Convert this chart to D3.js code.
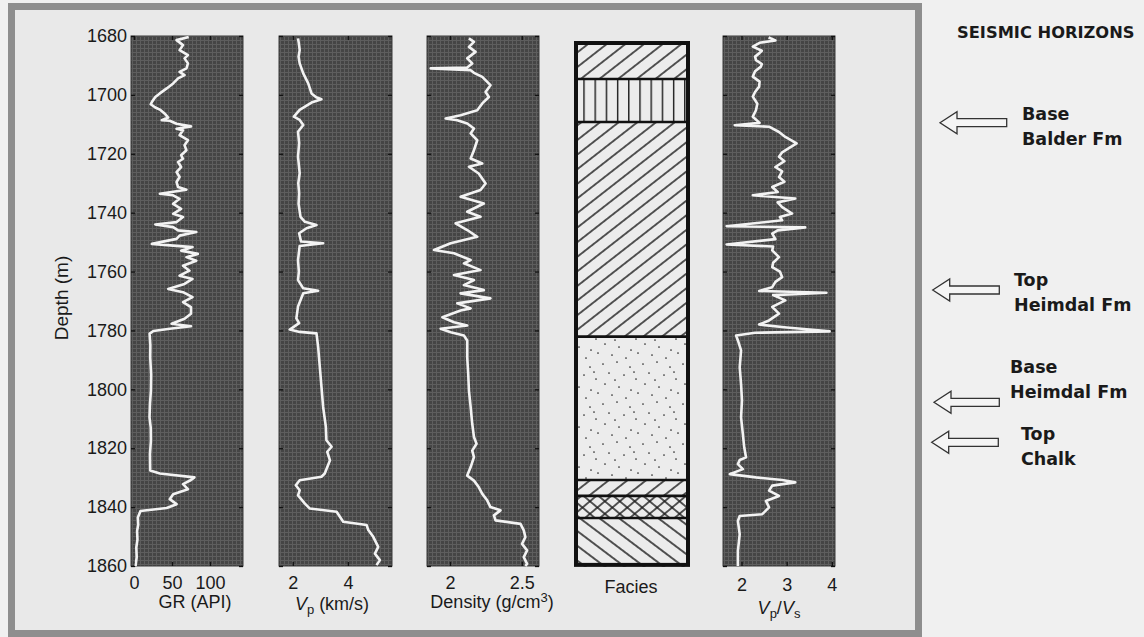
<!DOCTYPE html>
<html><head><meta charset="utf-8">
<script src="https://cdn.jsdelivr.net/npm/d3@7"></script>
<style>
html,body{margin:0;padding:0;background:#f0f0f0;}
svg{display:block;}
</style></head><body>
<svg id="chart" width="1144" height="637"></svg>
<script>
// ---------------- DATA ----------------
const depthTicks = [1680,1700,1720,1740,1760,1780,1800,1820,1840,1860];
const grTicks = [0,50,100];
const vpTicks = [2,4];
const rhoTicks = [2,2.5];
const vpvsTicks = [2,3,4];

// [depth (m), GR (API)]
const grLog = [[1680.3,72],[1681.4,56],[1683.1,64.5],[1684.8,60],[1686.5,71],[1687.6,66.5],[1689.3,71],[1691,69],[1692.2,60],[1693.3,66.5],[1694.4,58],[1696.1,51.5],[1697.8,43],[1699.5,34],[1700.7,28],[1702.4,23.5],[1703.2,22],[1704.3,28],[1705,34],[1706.4,40.5],[1707.7,45],[1708.6,36.5],[1708.8,47],[1709.8,56],[1710.7,75],[1711.5,56],[1712,64.5],[1713.7,60],[1715.4,71],[1717.1,66.5],[1718.8,69],[1720.5,62],[1721.7,64.5],[1722.8,58],[1724.5,62],[1726.2,56],[1727.9,60],[1729.6,56],[1731.3,58],[1732.2,69],[1733.6,34],[1734.1,51.5],[1735.3,60],[1737,51.5],[1738.7,62],[1740.4,51.5],[1741.5,64.5],[1743.2,56],[1744,28],[1744.9,51.5],[1746,58],[1746.6,82],[1747.8,60],[1748.9,56],[1750.6,23.5],[1751.2,51.5],[1751.7,77],[1752.9,62],[1754,84],[1755.1,69],[1756.3,82],[1758,64.5],[1759.7,73],[1761.4,60],[1762.5,77],[1764.2,66.5],[1765.9,45],[1767,64.5],[1768.7,77],[1770.4,64.5],[1772.1,75],[1774.3,75],[1776,66.5],[1777.7,49.5],[1778.6,75],[1779.4,47],[1780.2,25.5],[1781.1,20.5],[1785,21.5],[1789.1,21.3],[1795,22.5],[1800.4,22.2],[1805,21],[1809.5,20.4],[1813,22],[1817.4,22.2],[1822,21],[1827.6,21.3],[1828.6,34],[1829.9,79.5],[1830.8,75],[1832.2,64.5],[1833.9,71],[1835.6,51.5],[1837.3,47],[1839,56],[1840.3,43],[1841.3,8.5],[1843.5,5],[1846,5.5],[1848.1,4],[1851,4.5],[1853.7,3],[1857,3.5],[1860,2]];

// [depth (m), Vp (km/s)]
const vpLog = [[1680.8,2.19],[1682.5,2.22],[1684.8,2.25],[1687,2.21],[1689.3,2.25],[1692.7,2.38],[1696.1,2.56],[1699.5,2.68],[1700.8,2.85],[1701.5,3.04],[1702.6,2.68],[1705.1,2.25],[1707.4,2.04],[1708.5,2.25],[1710.2,2.38],[1712.5,2.19],[1716.4,2.23],[1721,2.19],[1726.6,2.25],[1730,2.2],[1733.4,2.23],[1737,2.21],[1741.4,2.28],[1743.1,2.44],[1744.2,2.86],[1745.3,2.5],[1747,2.23],[1749.8,2.3],[1750.4,3.1],[1751.3,2.25],[1756.1,2.19],[1760,2.22],[1762.9,2.19],[1765.7,2.38],[1766.5,2.92],[1767.4,2.38],[1771.9,2.19],[1775.9,2.13],[1777.5,2.23],[1779.7,1.89],[1780.5,2.25],[1781,2.86],[1785.6,2.92],[1792.3,2.98],[1799.1,3.04],[1805.9,3.1],[1812.7,3.2],[1817.3,3.22],[1819.5,3.41],[1821.2,3.25],[1824.1,3.35],[1828.6,3.16],[1829.7,3.04],[1830.9,2.25],[1832.6,2.11],[1834.3,2.25],[1836,2.19],[1838.8,2.44],[1840.5,2.62],[1841.6,3.59],[1845,3.83],[1846.1,4.68],[1847.8,4.74],[1850.1,4.92],[1853.5,5.1],[1855.8,4.98],[1858,5.16],[1859.7,5.04]];

// [depth (m), density (g/cm3)]
const rhoLog = [[1680.8,2.132],[1682,2.167],[1683.7,2.132],[1685.4,2.178],[1687.6,2.12],[1689.3,2.155],[1690.7,2.12],[1691,1.866],[1691.6,2.144],[1692.5,2.167],[1693.9,2.225],[1696.7,2.282],[1699,2.248],[1700.7,2.271],[1702.9,2.225],[1705.2,2.19],[1706.9,2.074],[1708,1.97],[1708.6,2.051],[1709.7,2.12],[1711.4,2.167],[1713.1,2.144],[1715.4,2.19],[1718.8,2.167],[1721.6,2.144],[1723.3,2.225],[1724.4,2.132],[1726.7,2.2],[1730.1,2.248],[1732.3,2.213],[1734.6,2.074],[1736.9,2.236],[1739.7,2.12],[1741.4,2.213],[1743.6,2.039],[1745.9,2.12],[1748.2,2.19],[1750.4,2.005],[1752.7,1.889],[1753.8,2.028],[1756.1,2.144],[1757.2,2.097],[1759.5,2.213],[1761.2,2.028],[1762.9,2.167],[1764.6,2.097],[1766.3,2.236],[1767.4,2.074],[1769.1,2.282],[1770.8,2.051],[1772.5,2.144],[1773.2,2.074],[1775.5,1.947],[1777.2,2.028],[1778.3,2.12],[1779.4,1.935],[1780.6,2.005],[1781.7,2.097],[1783.4,2.12],[1789.1,2.12],[1794.7,2.127],[1800.4,2.132],[1806,2.144],[1811.7,2.155],[1816.2,2.167],[1818.5,2.185],[1820.8,2.155],[1823,2.167],[1826.4,2.144],[1829.3,2.12],[1831,2.167],[1833.2,2.2],[1835.5,2.225],[1837.7,2.259],[1840,2.282],[1841.1,2.352],[1842.8,2.306],[1844.5,2.317],[1845.7,2.491],[1847.9,2.514],[1850.2,2.525],[1852.5,2.502],[1854.7,2.537],[1857,2.514],[1859.3,2.537],[1860,2.525]];

// [depth (m), Vp/Vs]
const vpvsLog = [[1680.5,2.6],[1681.5,2.75],[1682.3,2.4],[1683.6,2.25],[1685,2.45],[1685.9,2.39],[1687,2.3],[1688.2,2.32],[1689.5,2.45],[1690.4,2.43],[1692,2.3],[1693.8,2.25],[1695.5,2.4],[1697.2,2.39],[1699,2.3],[1700.6,2.25],[1703,2.35],[1705.2,2.32],[1707.4,2.25],[1709.5,2.4],[1710.3,1.85],[1710.8,2.61],[1712.6,2.83],[1714.3,2.97],[1716.5,3.22],[1718.2,3.04],[1719.5,2.9],[1721,2.83],[1722.5,2.95],[1724.5,2.75],[1726,2.9],[1727.9,2.83],[1729.5,2.95],[1731.3,2.68],[1733,2.8],[1734.1,2.25],[1735.2,3.19],[1736.5,2.8],[1738.1,2.9],[1740.3,3.12],[1741.5,2.85],[1742.6,2.9],[1744.6,1.67],[1745,3.41],[1746,2.8],[1747.1,2.68],[1749,2.75],[1750.8,1.67],[1751.5,2.7],[1752.8,2.68],[1755.1,2.83],[1757,2.7],[1758.5,2.68],[1760,2.85],[1761.9,2.9],[1763.5,2.75],[1765.3,2.68],[1766.6,2.39],[1767.2,3.88],[1768,2.7],[1769.8,2.97],[1772,2.68],[1774.3,2.83],[1776.6,2.61],[1778,2.39],[1779,3.0],[1780.3,3.95],[1780.8,2.3],[1781.7,1.88],[1783.4,1.92],[1786.8,1.99],[1792.5,1.96],[1798.2,1.99],[1803.8,2.01],[1809.5,1.99],[1815.2,2.03],[1819.7,2.06],[1823.1,2.1],[1824,1.96],[1825.4,1.92],[1827.1,2.03],[1828.8,1.74],[1829.9,2.32],[1830.8,2.9],[1831.6,3.19],[1832.7,2.68],[1834.4,2.61],[1836.2,2.83],[1837.9,2.54],[1840.1,2.61],[1842.4,2.46],[1843,1.96],[1844.7,1.92],[1849.2,1.96],[1854.9,1.92],[1860,1.92]];

// facies intervals
const faciesTops  = [1681.7, 1694.6, 1709.2, 1782.1, 1830.8, 1836.2, 1843.7];
const faciesBases = [1694.6, 1709.2, 1782.1, 1830.8, 1836.2, 1843.7, 1860.3];
const faciesKinds = ["fwd", "vert", "fwd", "dots", "fwd", "cross", "back"];

const horizonLabels = [["Base","Balder Fm"],["Top","Heimdal Fm"],["Base","Heimdal Fm"],["Top","Chalk"]];
const headerText = "SEISMIC HORIZONS";

// ---------------- LAYOUT ----------------
const FONT = "'Liberation Sans', Arial, sans-serif";
const BOLD = "'DejaVu Sans', sans-serif";
const TXT = "#1a1a1a";
const svg = d3.select("#chart");
const y = d3.scaleLinear().domain([1680,1860]).range([36,566]);

svg.append("rect").attr("width",1144).attr("height",637).attr("fill","#f0f0f0");
svg.append("rect").attr("x",11.5).attr("y",6.5).attr("width",907).attr("height",627)
  .attr("fill","#e9e9e9").attr("stroke","#8e8e8e").attr("stroke-width",7);

const defs = svg.append("defs");
const grid = defs.append("pattern").attr("id","grid").attr("width",4).attr("height",4).attr("patternUnits","userSpaceOnUse");
grid.append("rect").attr("width",4).attr("height",4).attr("fill","#454545");
grid.append("path").attr("d","M0 0.5H4M0.5 0V4").attr("stroke","#5e5e5e").attr("stroke-width",1);

function linePattern(id, spacing, angle){
  const p = defs.append("pattern").attr("id",id).attr("width",40).attr("height",spacing)
    .attr("patternUnits","userSpaceOnUse").attr("patternTransform",`rotate(${angle})`);
  p.append("line").attr("x1",0).attr("x2",40).attr("y1",spacing/2).attr("y2",spacing/2)
    .attr("stroke","#1a1a1a").attr("stroke-width",1.4);
}
linePattern("fwd", 11.5, -38);
linePattern("back", 11.8, 37);
linePattern("crossA", 9.6, -40);
linePattern("crossB", 9.6, 40);
const vp = defs.append("pattern").attr("id","vert").attr("x",583.3).attr("width",11.2).attr("height",20).attr("patternUnits","userSpaceOnUse");
vp.append("line").attr("x1",0.7).attr("x2",0.7).attr("y1",0).attr("y2",20).attr("stroke","#1a1a1a").attr("stroke-width",1.4);
const dp = defs.append("pattern").attr("id","dots").attr("width",40).attr("height",40).attr("patternUnits","userSpaceOnUse");
[[3,4],[17,2],[30,7],[9,13],[24,15],[36,19],[5,24],[19,27],[31,30],[12,35],[26,38],[38,33],[15,20],[34,12]]
  .forEach(([cx,cy])=>dp.append("circle").attr("cx",cx).attr("cy",cy).attr("r",0.85).attr("fill","#2a2a2a"));

const panels = [
  {x:[131,243], domain:[-4,143.5], ticks:grTicks, data:grLog, pad:10},
  {x:[279,392], domain:[1.5,5.6], ticks:vpTicks, data:vpLog, pad:10},
  {x:[427,539], domain:[1.84,2.62], ticks:rhoTicks, data:rhoLog, pad:10},
  {x:[723,835], domain:[1.59,4.07], ticks:vpvsTicks, data:vpvsLog, pad:12.5}
];

function styleAxis(g){
  g.select(".domain").remove();
  g.selectAll(".tick line").attr("stroke","#111").attr("stroke-width",1.3);
  g.selectAll("text").attr("font-family",FONT).attr("font-size",18).attr("fill",TXT);
}

panels.forEach((p,i)=>{
  const x = d3.scaleLinear().domain(p.domain).range(p.x);
  const g = svg.append("g");
  g.append("rect").attr("x",p.x[0]).attr("y",36).attr("width",p.x[1]-p.x[0]).attr("height",530)
    .attr("fill","url(#grid)").attr("stroke","#3a3a3a").attr("stroke-width",1);
  g.append("g").attr("transform",`translate(${p.x[0]},0)`)
    .call(d3.axisLeft(y).tickValues(depthTicks).tickSizeInner(-4).tickSizeOuter(0).tickPadding(4)
      .tickFormat(i===0 ? d3.format("d") : ()=>""))
    .call(styleAxis);
  g.append("g").attr("transform",`translate(${p.x[1]},0)`)
    .call(d3.axisRight(y).tickValues(depthTicks).tickSizeInner(-4).tickSizeOuter(0).tickFormat(()=>""))
    .call(styleAxis);
  g.append("g").attr("transform","translate(0,36)")
    .call(d3.axisTop(x).tickValues(p.ticks).tickSizeInner(-4).tickSizeOuter(0).tickFormat(()=>""))
    .call(styleAxis);
  g.append("g").attr("transform","translate(0,566)")
    .call(d3.axisBottom(x).tickValues(p.ticks).tickSizeInner(-4).tickSizeOuter(0).tickPadding(p.pad)
      .tickFormat(d=>String(d)))
    .call(styleAxis);
  const line = d3.line().x(d=>x(d[1])).y(d=>y(d[0]));
  g.append("path").datum(p.data).attr("d",line).attr("fill","none")
    .attr("stroke","#f3f3f3").attr("stroke-width",2.6).attr("stroke-linejoin","round");
});

// Depth axis title
svg.append("text").attr("transform","translate(68,298) rotate(-90)").attr("text-anchor","middle")
  .attr("font-family",FONT).attr("font-size",19).attr("fill",TXT).text("Depth (m)");

function title(xc, yb){
  return svg.append("text").attr("x",xc).attr("y",yb).attr("text-anchor","middle")
    .attr("font-family",FONT).attr("font-size",18).attr("fill",TXT);
}
title(195,608).text("GR (API)");
const tv = title(332,610);
tv.append("tspan").attr("font-style","italic").text("V");
tv.append("tspan").attr("font-size",13).attr("dy",4).text("p");
tv.append("tspan").attr("dy",-4).text(" (km/s)");
const td = title(492,608);
td.append("tspan").text("Density (g/cm");
td.append("tspan").attr("font-size",13).attr("dy",-6).text("3");
td.append("tspan").attr("dy",6).text(")");
title(631,593).text("Facies");
const tr = title(779,614);
tr.append("tspan").attr("font-style","italic").text("V");
tr.append("tspan").attr("font-size",13).attr("dy",4).text("p");
tr.append("tspan").attr("dy",-4).text("/");
tr.append("tspan").attr("font-style","italic").text("V");
tr.append("tspan").attr("font-size",13).attr("dy",4).text("s");

// Facies column
const fx0 = 574, fx1 = 690;
const fg = svg.append("g");
faciesKinds.forEach((k,i)=>{
  const y0 = y(faciesTops[i]), y1 = y(faciesBases[i]);
  fg.append("rect").attr("x",fx0).attr("y",y0).attr("width",fx1-fx0).attr("height",y1-y0).attr("fill","#ececec");
  const pats = k==="cross" ? ["crossA","crossB"] : [k];
  pats.forEach(pid=>fg.append("rect").attr("x",fx0).attr("y",y0).attr("width",fx1-fx0).attr("height",y1-y0)
    .attr("fill",`url(#${pid})`));
});
faciesTops.slice(1).forEach(d=>{
  fg.append("line").attr("x1",fx0).attr("x2",fx1).attr("y1",y(d)).attr("y2",y(d))
    .attr("stroke","#111").attr("stroke-width",2.6);
});
fg.append("rect").attr("x",fx0+2).attr("y",y(faciesTops[0])+2).attr("width",fx1-fx0-4)
  .attr("height",y(faciesBases[faciesBases.length-1])-y(faciesTops[0])-4)
  .attr("fill","none").attr("stroke","#111").attr("stroke-width",4);

// Seismic horizons
svg.append("text").attr("x",957).attr("y",38).attr("font-family",BOLD).attr("font-weight","bold")
  .attr("font-size",16.3).attr("fill",TXT).text(headerText);
const horizonLayout = [
  {arrowY:122.7, tip:940, tail:1006.7, tx:1022, ty:120},
  {arrowY:290,   tip:932.7, tail:999.3, tx:1014, ty:286},
  {arrowY:402.3, tip:934, tail:999.3, tx:1010, ty:373.3},
  {arrowY:442.3, tip:931.7, tail:998.3, tx:1021, ty:440}
];
horizonLabels.forEach((lab,i)=>{
  const L = horizonLayout[i], c = L.arrowY, t = L.tip, hl = 17;
  const pts = [[t,c],[t+hl,c-11],[t+hl,c-4],[L.tail,c-4],[L.tail,c+4],[t+hl,c+4],[t+hl,c+11]];
  svg.append("path").attr("d","M"+pts.map(p=>p.join(",")).join("L")+"Z")
    .attr("fill","#f5f5f5").attr("stroke","#333").attr("stroke-width",1.3).attr("stroke-linejoin","miter");
  lab.forEach((s,j)=>{
    svg.append("text").attr("x",L.tx).attr("y",L.ty + j*25).attr("font-family",BOLD).attr("font-weight","bold")
      .attr("font-size",17.5).attr("fill",TXT).text(s);
  });
});
</script>
</body></html>
